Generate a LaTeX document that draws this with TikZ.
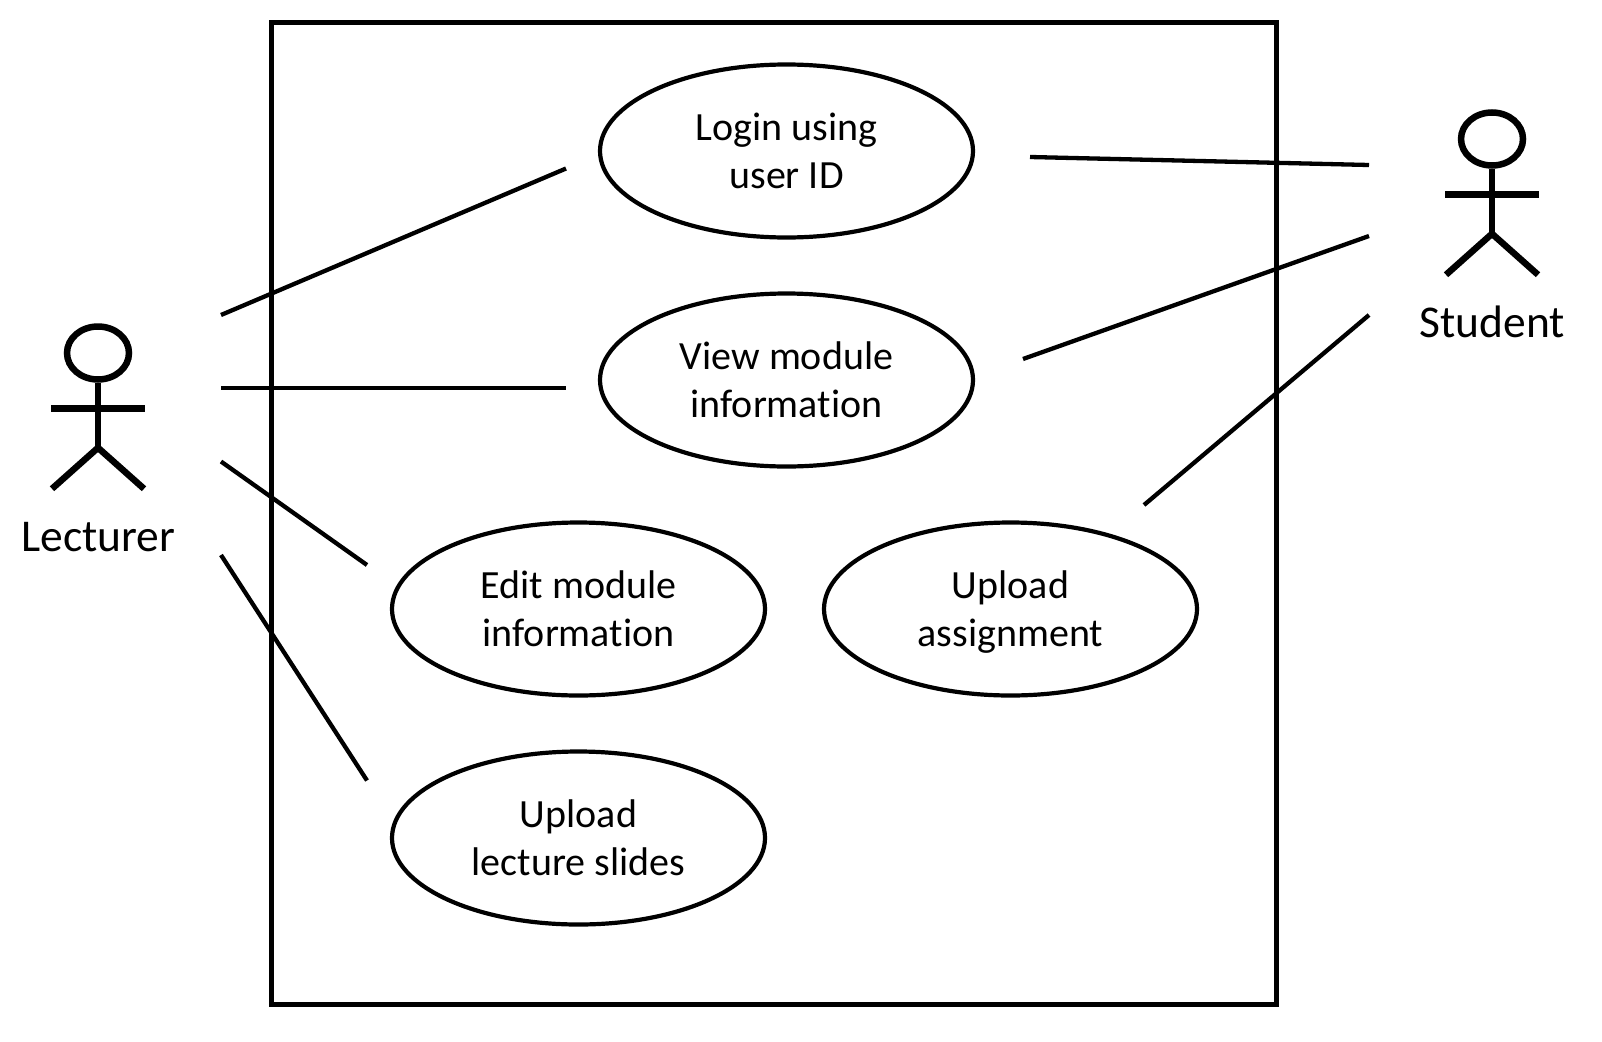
\documentclass[tikz,border=0pt]{standalone}
\usepackage{fontspec}
\setmainfont{Carlito}[Ligatures=NoCommon]
\usetikzlibrary{shapes.geometric}
\newcommand{\ucstrut}{\rule[-10pt]{0pt}{46pt}}
\tikzset{
	usecase/.style={draw,ellipse,line width=4.2pt,minimum width=373pt,minimum height=173pt,inner sep=0pt,align=center,font=\fontsize{40}{48}\selectfont},
	actorhead/.style={draw,ellipse,line width=6.5pt,minimum width=62pt,minimum height=53pt,inner sep=0pt},
	actorname/.style={inner sep=0pt,font=\fontsize{45.5}{48}\selectfont},
	link/.style={line width=4.3pt},
	stick/.style={line width=6.5pt}
}
\begin{document}
\begin{tikzpicture}[x=1pt,y=-1pt]
	\useasboundingbox (0,0) rectangle (1602,1041);
	\draw[line width=5pt] (271,23) rectangle (1276,1004);
	% use cases
	\node[usecase] (login) at (786.5,151) {Login using\ucstrut\\user ID\ucstrut};
	\node[usecase] (view) at (786.5,380) {View module\ucstrut\\information\ucstrut};
	\node[usecase] (edit) at (578.5,609) {Edit module\ucstrut\\information\ucstrut};
	\node[usecase] (assign) at (1010.5,609) {Upload\ucstrut\\assignment\ucstrut};
	\node[usecase] (slides) at (578.5,838) {Upload\ucstrut\\lecture slides\ucstrut};
	% actors
	\foreach \who/\text/\cx/\cy in {lecturer/Lecturer/98/353,student/Student/1492/139}{
		\node[actorhead] (\who head) at (\cx,\cy) {};
		\draw[stick] (\who head.south) -- ++(0,65) coordinate (\who hip);
		\draw[stick] ([xshift=-47pt,yshift=-25.5pt]\who head.south) -- ++(94,0);
		\draw[stick] ([xshift=-46pt,yshift=-41pt]\who hip) -- (\who hip) -- ([xshift=46pt,yshift=-41pt]\who hip);
		\node[actorname,anchor=base] (\who) at ([xshift=0.5pt,yshift=-198pt]\who head.center) {\text};
	}
	% connector ends
	\coordinate (l1) at (221,315);
	\coordinate (l2) at (221,388);
	\coordinate (l3) at (221,461.5);
	\coordinate (l4) at (221,555);
	\coordinate (s1) at (1369,165);
	\coordinate (s2) at (1369,236);
	\coordinate (s3) at (1369,315);
	\coordinate (loginl) at (566,168.5);
	\coordinate (viewl) at (566,388);
	\coordinate (editl) at (367,565);
	\coordinate (slidesl) at (367,780.5);
	\coordinate (logins) at (1030,157);
	\coordinate (views) at (1023,359);
	\coordinate (assigns) at (1144,505);
	\foreach \a/\b in {l1/loginl,l2/viewl,l3/editl,l4/slidesl,s1/logins,s2/views,s3/assigns}
		\draw[link] (\a) -- (\b);
\end{tikzpicture}
\end{document}
